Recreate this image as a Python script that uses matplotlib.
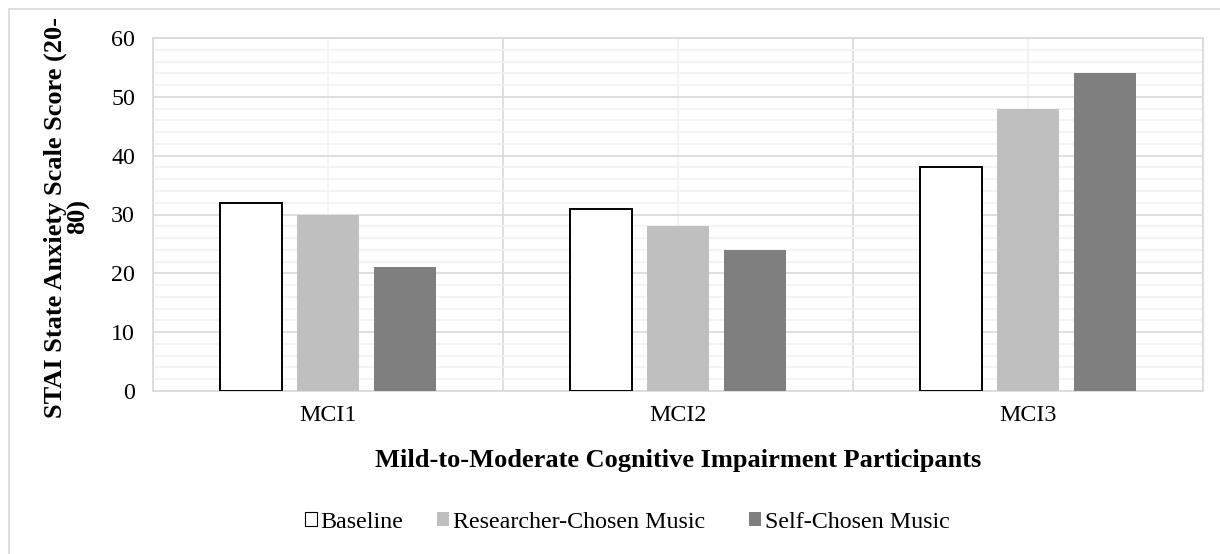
import matplotlib
matplotlib.use("Agg")
import matplotlib.pyplot as plt
import numpy as np
from matplotlib.patches import Rectangle, Patch
from matplotlib.ticker import MultipleLocator, FixedLocator

plt.rcParams['font.family'] = ['Liberation Serif', 'DejaVu Serif']

participants = ["MCI1", "MCI2", "MCI3"]
series_names = ["Baseline", "Researcher-Chosen Music", "Self-Chosen Music"]
baseline = [32, 31, 38]
researcher_music = [30, 28, 48]
self_music = [21, 24, 54]
y_ticks = [0, 10, 20, 30, 40, 50, 60]

W, H = 1220, 554
fig = plt.figure(figsize=(W / 100, H / 100), dpi=100)
ax = fig.add_axes([153 / W, 1 - 391 / H, 1050 / W, 353 / H])

x = np.arange(len(participants))
width = 0.175
step = 0.22

face = ["white", "#BFBFBF", "#7F7F7F"]
edge = ["black", "#BFBFBF", "#7F7F7F"]
lws = [1.4, 0.0, 0.0]
for i, vals in enumerate([baseline, researcher_music, self_music]):
    ax.bar(x + (i - 1) * step, vals, width, color=face[i], edgecolor=edge[i],
           linewidth=lws[i], zorder=3)

ax.set_xlim(-0.5, 2.5)
ax.set_ylim(0, 60)
ax.set_yticks(y_ticks)
ax.yaxis.set_minor_locator(MultipleLocator(2))
ax.set_xticks(x)
ax.set_xticklabels(participants)
ax.xaxis.set_minor_locator(FixedLocator([-0.5, 0.5, 1.5, 2.5]))

# category centres get light lines, boundaries darker ones
ax.grid(axis='y', which='major', color='#D9D9D9', linewidth=1.2, zorder=1)
ax.grid(axis='y', which='minor', color='#F2F2F2', linewidth=1.2, zorder=0)
ax.grid(axis='x', which='major', color='#F2F2F2', linewidth=1.2, zorder=0)
ax.grid(axis='x', which='minor', color='#D9D9D9', linewidth=1.2, zorder=1)
ax.set_axisbelow(True)

for s in ax.spines.values():
    s.set_color('#D9D9D9')
    s.set_linewidth(1.2)

ax.tick_params(axis='both', which='both', length=0)
ax.tick_params(axis='y', labelsize=17.3, pad=13)
ax.tick_params(axis='x', labelsize=17.3, pad=10)

fig.text(67 / W, 1 - 217 / H, "STAI State Anxiety Scale Score (20-\n80)",
         rotation=90, ha='center', va='center', multialignment='center',
         fontsize=19, fontweight='bold', linespacing=0.95)
fig.text(678 / W, 1 - 461 / H, "Mild-to-Moderate Cognitive Impairment Participants",
         ha='center', va='center', fontsize=19, fontweight='bold')

# one legend entry per series, laid out in a row under the axis title
entry_x = [305, 437, 749]
for i in range(3):
    h = Patch(facecolor=face[i], edgecolor=('black' if i == 0 else face[i]),
              linewidth=(0.8 if i == 0 else 0))
    leg = fig.legend([h], [series_names[i]], loc='center left',
                     bbox_to_anchor=(entry_x[i] / W, 1 - 522 / H),
                     frameon=False, fontsize=17.3, handlelength=0.5, handleheight=0.5,
                     handletextpad=0.15, borderpad=0, borderaxespad=0)

# outer chart frame
fig.add_artist(Rectangle((9 / W, -0.05), 1.2, 1 - 9 / H + 0.05, transform=fig.transFigure,
                         fill=False, edgecolor='#D9D9D9', linewidth=1.2))

fig.savefig("out.png", dpi=100)
